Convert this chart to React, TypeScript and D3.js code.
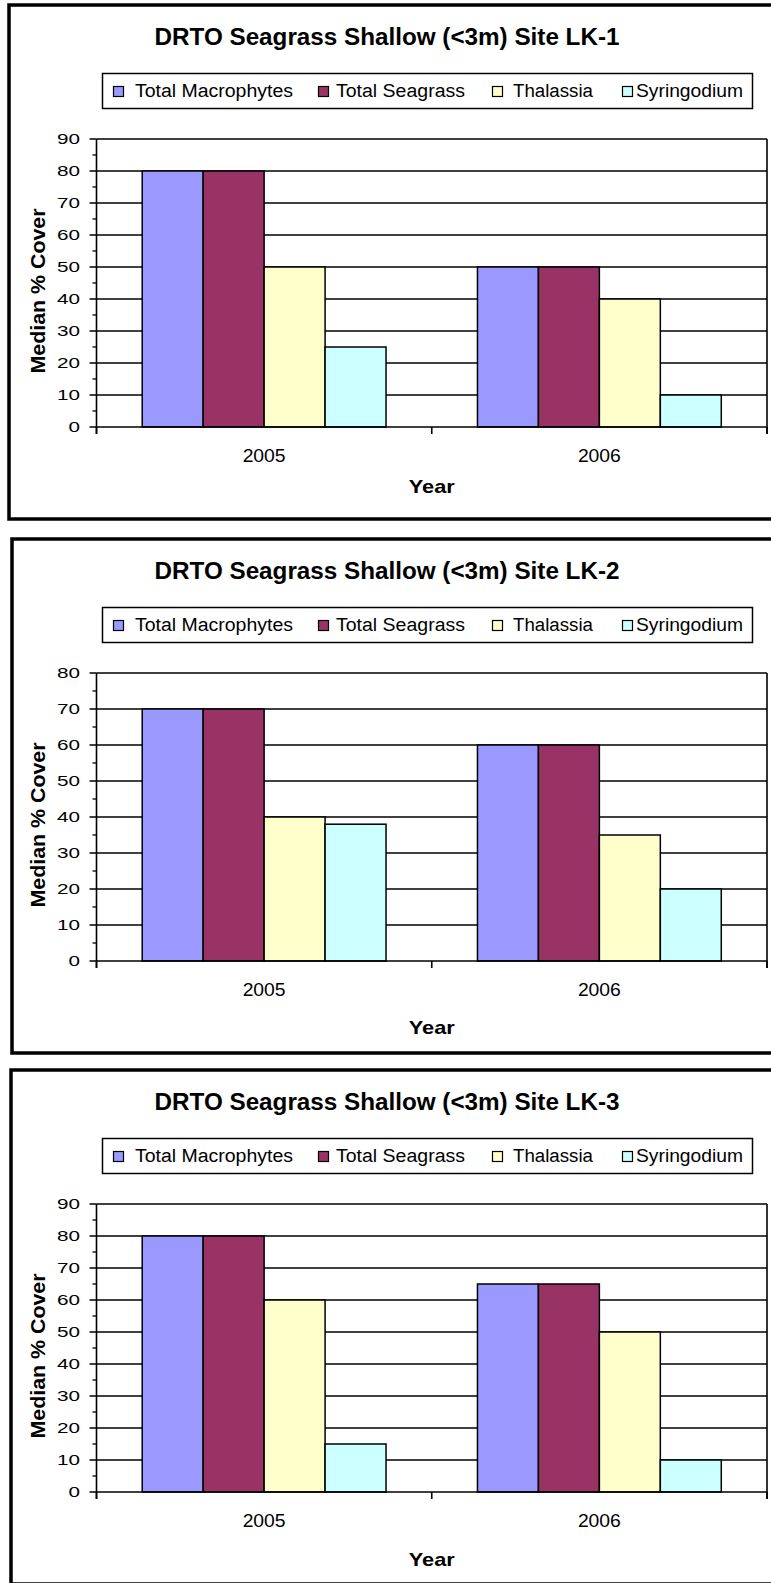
import React from 'react';
import * as d3 from 'd3';

// ---------- data ----------
const years = ['2005', '2006'];
const seriesNames = ['Total Macrophytes', 'Total Seagrass', 'Thalassia', 'Syringodium'];
const seriesColors = ['#9999FF', '#993366', '#FFFFCC', '#CCFFFF'];
const siteTitles = [
  'DRTO Seagrass Shallow (<3m) Site LK-1',
  'DRTO Seagrass Shallow (<3m) Site LK-2',
  'DRTO Seagrass Shallow (<3m) Site LK-3',
];
const yMaxes = [90, 80, 90];
const lk1_2005 = [80, 80, 50, 25];
const lk1_2006 = [50, 50, 40, 10];
const lk2_2005 = [70, 70, 40, 38];
const lk2_2006 = [60, 60, 35, 20];
const lk3_2005 = [80, 80, 60, 15];
const lk3_2006 = [65, 65, 50, 10];
const yTitle = 'Median % Cover';
const xTitle = 'Year';

const siteData = [
  [lk1_2005, lk1_2006],
  [lk2_2005, lk2_2006],
  [lk3_2005, lk3_2006],
];

// ---------- layout ----------
const W = 771;
const H = 1583;
const chartTops = [5, 539, 1070];
const frameLefts = [9, 12, 11];
const yearOffsets = [488, 495, 496];
const FRAME_H = 514;
const PLOT_L = 96.5;
const PLOT_R = 767;
const PLOT_TOP = 134;
const PLOT_ZERO = 422;
const legendSwatchX = [113, 318, 492, 622];
const legendTextX = [135, 336, 513, 636];
const legendTextW = [158, 129, 80, 107];
const FONT = '"Liberation Sans", Arial, sans-serif';

function Chart({ idx }: { idx: number }) {
  const T = chartTops[idx];
  const yMax = yMaxes[idx];
  const data = siteData[idx];
  const y = d3.scaleLinear().domain([0, yMax]).range([T + PLOT_ZERO, T + PLOT_TOP]);
  const x0 = d3
    .scaleBand<string>()
    .domain(years)
    .range([PLOT_L, PLOT_R])
    .paddingInner(1.5 / 5.5)
    .paddingOuter(0.75 / 5.5);
  const x1 = d3.scaleBand<string>().domain(seriesNames).range([0, x0.bandwidth()]);
  const majors = d3.range(0, yMax + 0.1, 10);
  const minors = d3.range(0, yMax + 0.1, 5).filter((v) => v % 10 !== 0);
  const step = x0.step();
  const catTicks = d3.range(0, years.length + 1).map((i) => PLOT_L + i * step);
  const zero = y(0);
  const top = y(yMax);

  return (
    <g>
      {/* frame */}
      <rect
        x={frameLefts[idx]}
        y={T}
        width={W + 20}
        height={FRAME_H}
        fill="#fff"
        stroke="#000"
        strokeWidth={3.5}
      />
      {/* title */}
      <text
        x={387}
        y={T + 40}
        textAnchor="middle"
        fontFamily={FONT}
        fontWeight="bold"
        fontSize={23}
        textLength={465}
        lengthAdjust="spacingAndGlyphs"
        fill="#000"
      >
        {siteTitles[idx]}
      </text>
      {/* legend */}
      <rect x={102.5} y={T + 68.5} width={650} height={35} fill="#fff" stroke="#000" strokeWidth={1.5} />
      {seriesNames.map((s, i) => (
        <g key={s}>
          <rect
            x={legendSwatchX[i] + 0.5}
            y={T + 81.5}
            width={10}
            height={10}
            fill={seriesColors[i]}
            stroke="#000"
            strokeWidth={1.2}
          />
          <text
            x={legendTextX[i]}
            y={T + 92}
            fontFamily={FONT}
            fontSize={18}
            textLength={legendTextW[i]}
            lengthAdjust="spacingAndGlyphs"
            fill="#000"
          >
            {s}
          </text>
        </g>
      ))}
      {/* gridlines */}
      {majors
        .filter((v) => v !== 0)
        .map((v) => (
          <line key={'g' + v} x1={PLOT_L} x2={PLOT_R} y1={y(v)} y2={y(v)} stroke="#000" strokeWidth={1.6} />
        ))}
      {/* right border */}
      <line x1={PLOT_R} x2={PLOT_R} y1={top} y2={zero + 7} stroke="#000" strokeWidth={1.6} />
      {/* bars */}
      {years.map((yr, gi) =>
        seriesNames.map((s, si) => {
          const v = data[gi][si];
          const bx = (x0(yr) as number) + (x1(s) as number);
          return (
            <rect
              key={yr + s}
              x={bx}
              y={y(v)}
              width={x1.bandwidth()}
              height={zero - y(v)}
              fill={seriesColors[si]}
              stroke="#000"
              strokeWidth={1.5}
            />
          );
        })
      )}
      {/* y axis */}
      <line x1={PLOT_L} x2={PLOT_L} y1={top} y2={zero + 7} stroke="#000" strokeWidth={1.6} />
      <line x1={PLOT_L} x2={PLOT_R} y1={zero} y2={zero} stroke="#000" strokeWidth={1.6} />
      {majors.map((v) => (
        <g key={'t' + v}>
          <line x1={PLOT_L - 7} x2={PLOT_L} y1={y(v)} y2={y(v)} stroke="#000" strokeWidth={1.5} />
          <text
            x={80}
            y={y(v)}
            dy="0.36em"
            textAnchor="end"
            fontFamily={FONT}
            fontSize={15}
            textLength={String(v).length * 11.5}
            lengthAdjust="spacingAndGlyphs"
            fill="#000"
          >
            {v}
          </text>
        </g>
      ))}
      {minors.map((v) => (
        <line key={'m' + v} x1={PLOT_L - 4} x2={PLOT_L} y1={y(v)} y2={y(v)} stroke="#000" strokeWidth={1.3} />
      ))}
      {/* x category ticks */}
      {catTicks.map((cx, i) => (
        <line key={'c' + i} x1={cx} x2={cx} y1={zero} y2={zero + 7} stroke="#000" strokeWidth={1.6} />
      ))}
      {years.map((yr) => (
        <text
          key={'l' + yr}
          x={(x0(yr) as number) + x0.bandwidth() / 2}
          y={T + 457}
          textAnchor="middle"
          fontFamily={FONT}
          fontSize={18}
          textLength={43}
          lengthAdjust="spacingAndGlyphs"
          fill="#000"
        >
          {yr}
        </text>
      ))}
      {/* axis titles */}
      <text
        x={(PLOT_L + PLOT_R) / 2}
        y={T + yearOffsets[idx]}
        textAnchor="middle"
        fontFamily={FONT}
        fontWeight="bold"
        fontSize={19}
        textLength={46}
        lengthAdjust="spacingAndGlyphs"
        fill="#000"
      >
        {xTitle}
      </text>
      <text
        transform={`translate(44.5, ${T + 286}) rotate(-90)`}
        textAnchor="middle"
        fontFamily={FONT}
        fontWeight="bold"
        fontSize={20}
        textLength={165}
        lengthAdjust="spacingAndGlyphs"
        fill="#000"
      >
        {yTitle}
      </text>
    </g>
  );
}

export default function App() {
  return (
    <div style={{ position: 'absolute', left: 0, top: 0, width: W, height: H, overflow: 'hidden', background: '#fff' }}>
      <svg width={W} height={H} viewBox={`0 0 ${W} ${H}`} style={{ display: 'block' }}>
        <rect x={0} y={0} width={W} height={H} fill="#fff" />
        {siteTitles.map((_, i) => (
          <Chart key={i} idx={i} />
        ))}
      </svg>
    </div>
  );
}
